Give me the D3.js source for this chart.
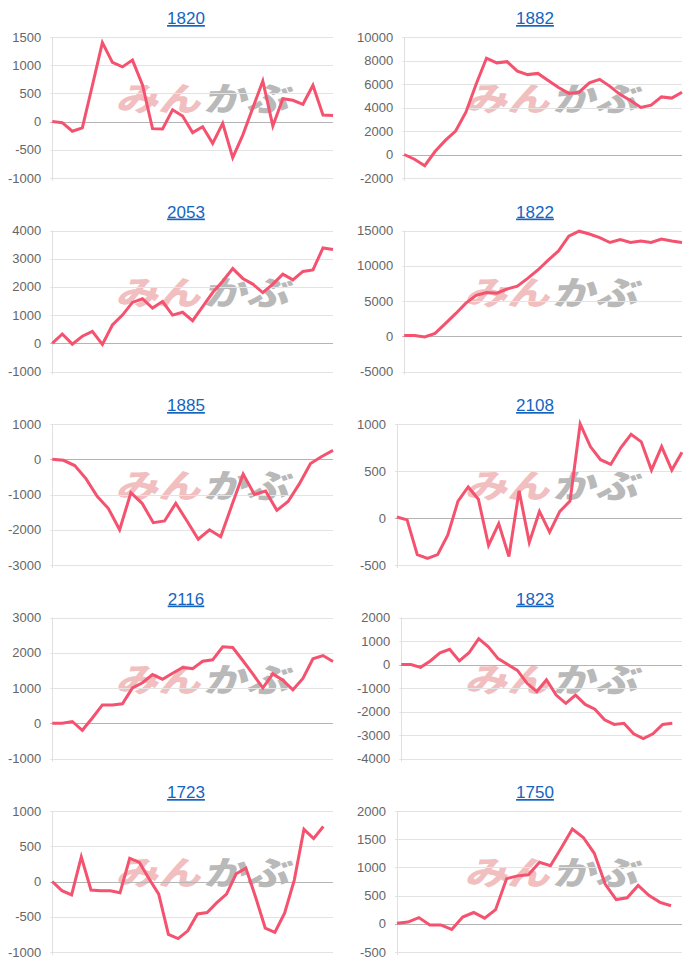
<!DOCTYPE html>
<html>
<head>
<meta charset="utf-8">
<script src="https://cdn.jsdelivr.net/npm/d3@7"></script>
<style>
  body { margin: 0; background: #fff; }
  svg { display: block; }
</style>
</head>
<body>
<div id="chart"></div>
<script>
// stock codes, one small chart each (2 columns x 5 rows)
const codes = ['1820', '1882', '2053', '1822', '1885', '2108', '2116', '1823', '1723', '1750'];

// series values (null = no value for that day)
const v1820 = [0, -20, -170, -110, 640, 1400, 1050, 970, 1090, 650, -125, -130, 210, 100, -195,
  -90, -385, -30, -640, -240, 240, 720, -77, 405, 378, 307, 644, 118, 110];
const v1882 = [0, -400, -950, 250, 1200, 2000, 3600, 6000, 8200, 7800, 7900, 7100, 6800, 6900,
  6300, 5700, 5200, 5300, 6100, 6400, 5800, 5100, 4600, 4000, 4200, 4900, 4800, 5300];
const v2053 = [0, 330, -30, 250, 420, -40, 650, 1000, 1450, 1580, 1250, 1480, 1000, 1100, 800,
  1300, 1800, 2200, 2650, 2300, 2100, 1800, 2100, 2450, 2250, 2550, 2600, 3380, 3330];
const v1822 = [100, 100, -100, 400, 1800, 3200, 4700, 5800, 6200, 6100, 6700, 7100, 8200, 9400,
  10800, 12100, 14200, 14900, 14500, 14000, 13300, 13700, 13300, 13500, 13300, 13800, 13500, 13300];
const v1885 = [0, -30, -180, -550, -1050, -1400, -2000, -950, -1250, -1800, -1750, -1250, -1750,
  -2270, -2000, -2200, -1300, -420, -1000, -900, -1450, -1200, -700, -120, 80, 250];
const v2108 = [10, -20, -390, -430, -390, -180, 180, 330, 200, -290, -60, -410, 290, -260, 70,
  -150, 70, 180, 1000, 760, 620, 570, 750, 890, 810, 510, 760, 510, 700];
const v2116 = [0, 0, 50, -200, 150, 520, 520, 550, 1000, 1150, 1380, 1250, 1420, 1580, 1550,
  1760, 1800, 2170, 2150, 1780, 1400, 1000, 1400, 1220, 950, 1270, 1830, 1920, 1750];
const v1823 = [0, 0, -120, 150, 500, 650, 150, 500, 1100, 750, 250, 0, -250, -800, -1150, -650,
  -1300, -1650, -1300, -1700, -1900, -2350, -2550, -2500, -2950, -3150, -2950, -2550, -2500, null];
const v1723 = [0, -130, -190, 350, -120, -130, -130, -160, 330, 270, 40, -180, -750, -810, -700,
  -460, -440, -300, -180, 110, 190, -220, -660, -720, -450, 20, 740, 610, 780, null];
const v1750 = [10, 30, 110, -20, -20, -100, 120, 200, 100, 250, 800, 850, 870, 1090, 1030, 1350,
  1680, 1530, 1250, 700, 430, 460, 680, 500, 380, 320, null];

// y axis ranges and tick steps
const yMins = [-1000, -2000, -1000, -5000, -3000, -500, -1000, -4000, -1000, -500];
const yMaxs = [1500, 10000, 4000, 15000, 1000, 1000, 3000, 2000, 1000, 2000];
const ySteps = [500, 2000, 1000, 5000, 1000, 500, 1000, 1000, 500, 500];

const seriesList = [v1820, v1882, v2053, v1822, v1885, v2108, v2116, v1823, v1723, v1750];

const width = 700, height = 972;
const rowH = 193.5;
const colX = [0, 349];
const lineColor = '#f4526e';
const font = '"Liberation Sans", Arial, Helvetica, sans-serif';

const svg = d3.select('#chart').append('svg')
  .attr('width', width)
  .attr('height', height);

// measure tick label widths so the axis sits right after the widest label
const measure = svg.append('text')
  .style('font-family', font)
  .style('font-size', '13px');
function textWidth(s) {
  measure.text(s);
  return measure.node().getComputedTextLength();
}

codes.forEach((code, i) => {
  const col = i % 2, row = Math.floor(i / 2);
  const x0 = colX[col], y0 = row * rowH;
  const values = seriesList[i];
  const ticks = d3.range(yMins[i], yMaxs[i] + ySteps[i] / 2, ySteps[i]);
  const labelW = d3.max(ticks, t => textWidth(String(t)));

  const left = x0 + 8 + labelW + 11;
  const right = x0 + 333;
  const top = y0 + 37, bottom = y0 + 178;

  const x = d3.scaleLinear().domain([0, values.length - 1]).range([left, right]);
  const y = d3.scaleLinear().domain([yMins[i], yMaxs[i]]).range([bottom, top]);

  const g = svg.append('g').attr('class', 'panel');

  // watermark
  const wm = g.append('g')
    .attr('transform', `translate(${x0 + 202},${y0 + 111}) skewX(-14) scale(1.22,0.95)`)
    .style('font-family', '"Noto Sans CJK JP", sans-serif')
    .style('font-weight', '900')
    .style('font-size', '35px');
  wm.append('text')
    .attr('x', -1)
    .attr('text-anchor', 'end')
    .attr('fill', '#f1bfbf')
    .text('みん');
  wm.append('text')
    .attr('x', 1)
    .attr('fill', '#b9b9b9')
    .text('かぶ');

  // grid lines
  g.selectAll('line.grid')
    .data(ticks)
    .enter().append('line')
    .attr('class', 'grid')
    .attr('x1', left - 2)
    .attr('x2', right)
    .attr('y1', d => Math.round(y(d)) + 0.5)
    .attr('y2', d => Math.round(y(d)) + 0.5)
    .attr('stroke', d => d === 0 ? '#b4b4b4' : '#e3e3e3')
    .attr('stroke-width', 1);

  // y axis line
  g.append('line')
    .attr('x1', Math.round(left) + 0.5)
    .attr('x2', Math.round(left) + 0.5)
    .attr('y1', top)
    .attr('y2', bottom + 3)
    .attr('stroke', '#e0e0e0');

  // tick labels
  g.selectAll('text.tick')
    .data(ticks)
    .enter().append('text')
    .attr('class', 'tick')
    .attr('x', left - 11)
    .attr('y', d => y(d))
    .attr('dy', '0.35em')
    .attr('text-anchor', 'end')
    .style('font-family', font)
    .style('font-size', '13px')
    .attr('fill', '#666')
    .text(d => d);

  // title
  g.append('text')
    .attr('x', x0 + 186)
    .attr('y', y0 + 24)
    .attr('text-anchor', 'middle')
    .style('font-family', font)
    .style('font-size', '17px')
    .style('text-decoration', 'underline')
    .attr('fill', '#1565c0')
    .text(code);

  // line
  const line = d3.line()
    .defined(d => d != null)
    .x((d, j) => x(j))
    .y(d => y(d));

  g.append('path')
    .datum(values)
    .attr('d', line)
    .attr('fill', 'none')
    .attr('stroke', lineColor)
    .attr('stroke-width', 3)
    .attr('stroke-linejoin', 'miter');
});

measure.remove();
</script>
</body>
</html>
